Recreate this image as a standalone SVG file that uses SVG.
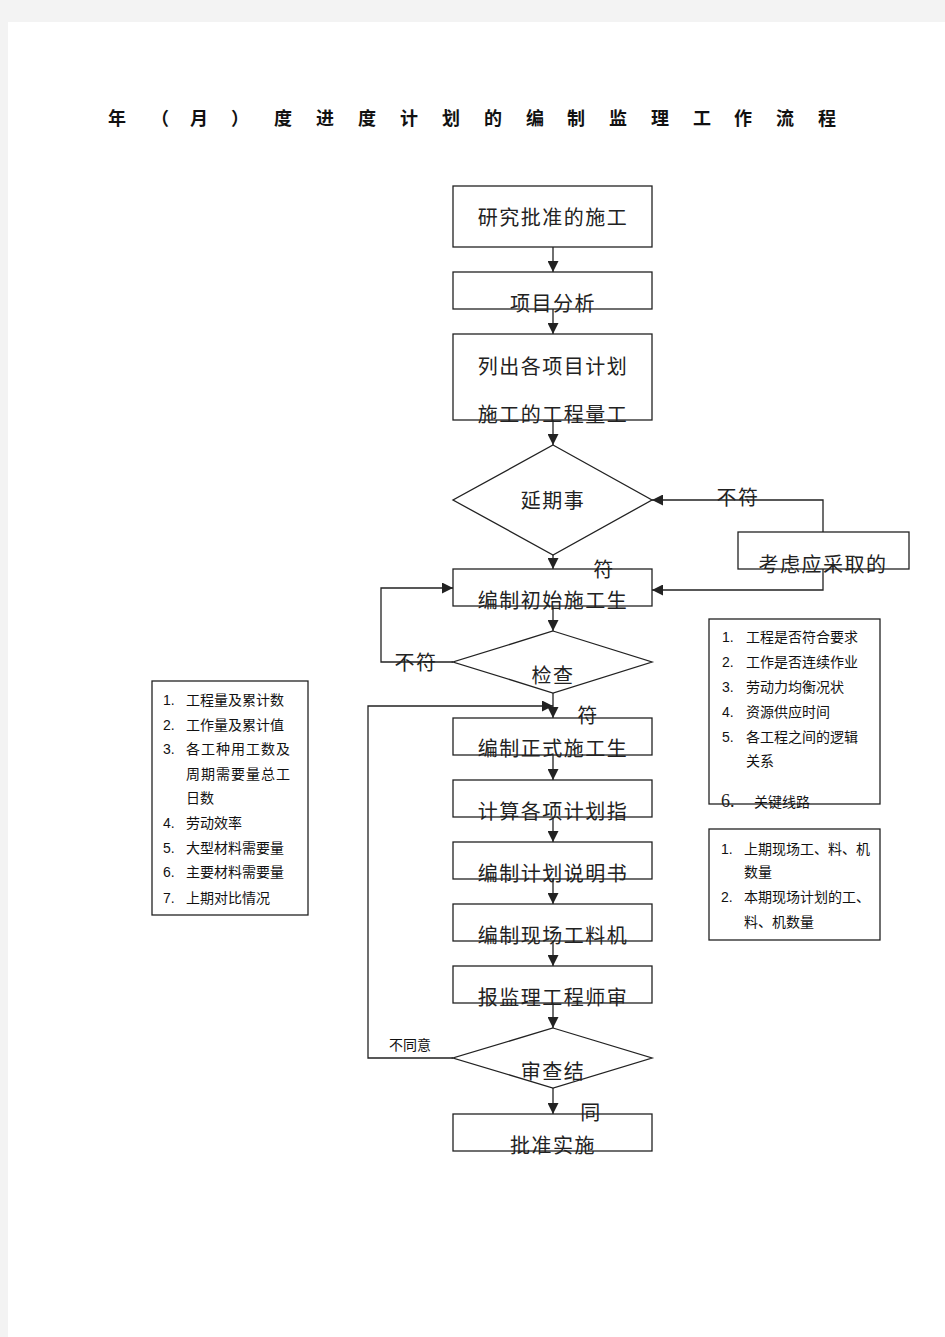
<svg xmlns="http://www.w3.org/2000/svg" width="945" height="1337" viewBox="0 0 945 1337">
<style>
.bx{fill:none;stroke:#222;stroke-width:1.3}
.ln{fill:none;stroke:#222;stroke-width:1.3}
.t{font-family:"Liberation Serif","Noto Sans CJK SC",serif;font-size:20px;fill:#222;text-anchor:middle;letter-spacing:1.5px}
.n{font-family:"Liberation Sans","Noto Sans CJK SC",sans-serif;font-size:14px;fill:#111}
.ttl{font-family:"Liberation Serif","Noto Sans CJK SC",serif;font-size:18px;font-weight:bold;fill:#111;text-anchor:middle}
</style>
<defs>
<marker id="ah" viewBox="0 0 10 10" refX="10" refY="5" markerWidth="11" markerHeight="11" markerUnits="userSpaceOnUse" orient="auto">
<path d="M0,0 L10,5 L0,10 z" fill="#222"/>
</marker>
</defs>
<rect x="0" y="0" width="945" height="1337" fill="#f3f3f3"/>
<rect x="8" y="22" width="937" height="1315" fill="#fff"/>
<text class="ttl" x="117 160 199 240 283 325 367 409 451 493 535 576 618 660 702 743 785 827" y="125">年（月）度进度计划的编制监理工作流程</text>

<g id="connectors">
<path class="ln" d="M553,247 V272" marker-end="url(#ah)"/>
<path class="ln" d="M553,309 V334" marker-end="url(#ah)"/>
<path class="ln" d="M553,420 V445" marker-end="url(#ah)"/>
<path class="ln" d="M553,555 V569" marker-end="url(#ah)"/>
<path class="ln" d="M823,532 V500 H652" marker-end="url(#ah)"/>
<path class="ln" d="M823,569 V590 H652" marker-end="url(#ah)"/>
<path class="ln" d="M453,662 H381 V588 H453" marker-end="url(#ah)"/>
<path class="ln" d="M553,606 V631" marker-end="url(#ah)"/>
<path class="ln" d="M553,693 V718" marker-end="url(#ah)"/>
<path class="ln" d="M453,1058 H368 V706 H553" marker-end="url(#ah)"/>
<path class="ln" d="M553,755 V780" marker-end="url(#ah)"/>
<path class="ln" d="M553,817 V842" marker-end="url(#ah)"/>
<path class="ln" d="M553,879 V904" marker-end="url(#ah)"/>
<path class="ln" d="M553,941 V966" marker-end="url(#ah)"/>
<path class="ln" d="M553,1003 V1028" marker-end="url(#ah)"/>
<path class="ln" d="M553,1088 V1114" marker-end="url(#ah)"/>
<text class="t" x="738" y="505">不符</text>
<text class="t" x="604" y="577">符</text>
<text class="t" x="416" y="670">不符</text>
<text class="t" x="588" y="723">符</text>
<text class="n" x="389" y="1050">不同意</text>
<text class="t" x="591" y="1120">同</text>
</g>

<g id="n1"><rect class="bx" x="453" y="186" width="199" height="61"/><text class="t" x="553" y="225">研究批准的施工</text></g>
<g id="n2"><rect class="bx" x="453" y="272" width="199" height="37"/><text class="t" x="553" y="311">项目分析</text></g>
<g id="n3"><rect class="bx" x="453" y="334" width="199" height="86"/><text class="t" x="553" y="374">列出各项目计划</text><text class="t" x="553" y="422">施工的工程量工</text></g>
<g id="n4"><polygon class="bx" points="553,445 652,500 553,555 453,500"/><text class="t" x="553" y="508">延期事</text></g>
<g id="n5"><rect class="bx" x="738" y="532" width="171" height="37"/><text class="t" x="823" y="572">考虑应采取的</text></g>
<g id="n6"><rect class="bx" x="453" y="569" width="199" height="37"/><text class="t" x="553" y="608">编制初始施工生</text></g>
<g id="n7"><polygon class="bx" points="553,631 652,662 553,693 453,662"/><text class="t" x="553" y="683">检查</text></g>
<g id="n8"><rect class="bx" x="453" y="718" width="199" height="37"/><text class="t" x="553" y="756">编制正式施工生</text></g>
<g id="n9"><rect class="bx" x="453" y="780" width="199" height="37"/><text class="t" x="553" y="819">计算各项计划指</text></g>
<g id="n10"><rect class="bx" x="453" y="842" width="199" height="37"/><text class="t" x="553" y="881">编制计划说明书</text></g>
<g id="n11"><rect class="bx" x="453" y="904" width="199" height="37"/><text class="t" x="553" y="943">编制现场工料机</text></g>
<g id="n12"><rect class="bx" x="453" y="966" width="199" height="37"/><text class="t" x="553" y="1005">报监理工程师审</text></g>
<g id="n13"><polygon class="bx" points="553,1028 652,1058 553,1088 453,1058"/><text class="t" x="553" y="1079">审查结</text></g>
<g id="n14"><rect class="bx" x="453" y="1114" width="199" height="37"/><text class="t" x="553" y="1153">批准实施</text></g>

<g id="noteLeft">
<rect class="bx" x="152" y="681" width="156" height="234"/>
<text class="n" x="163" y="705">1.</text><text class="n" x="186" y="705">工程量及累计数</text>
<text class="n" x="163" y="730">2.</text><text class="n" x="186" y="730">工作量及累计值</text>
<text class="n" x="163" y="754">3.</text><text class="n" x="186" y="754" letter-spacing="1">各工种用工数及</text>
<text class="n" x="186" y="779" letter-spacing="1">周期需要量总工</text>
<text class="n" x="186" y="803">日数</text>
<text class="n" x="163" y="828">4.</text><text class="n" x="186" y="828">劳动效率</text>
<text class="n" x="163" y="853">5.</text><text class="n" x="186" y="853">大型材料需要量</text>
<text class="n" x="163" y="877">6.</text><text class="n" x="186" y="877">主要材料需要量</text>
<text class="n" x="163" y="903">7.</text><text class="n" x="186" y="903">上期对比情况</text>
</g>

<g id="noteRight1">
<rect class="bx" x="709" y="619" width="171" height="185"/>
<text class="n" x="722" y="642">1.</text><text class="n" x="746" y="642">工程是否符合要求</text>
<text class="n" x="722" y="667">2.</text><text class="n" x="746" y="667">工作是否连续作业</text>
<text class="n" x="722" y="692">3.</text><text class="n" x="746" y="692">劳动力均衡况状</text>
<text class="n" x="722" y="717">4.</text><text class="n" x="746" y="717">资源供应时间</text>
<text class="n" x="722" y="742">5.</text><text class="n" x="746" y="742">各工程之间的逻辑</text>
<text class="n" x="746" y="766">关系</text>
<text x="721" y="807" font-family="Liberation Serif, serif" font-size="18" fill="#222">6.</text><text class="n" x="754" y="807">关键线路</text>
</g>

<g id="noteRight2">
<rect class="bx" x="709" y="829" width="171" height="111"/>
<text class="n" x="721" y="854">1.</text><text class="n" x="744" y="854">上期现场工、料、机</text>
<text class="n" x="744" y="877">数量</text>
<text class="n" x="721" y="902">2.</text><text class="n" x="744" y="902">本期现场计划的工、</text>
<text class="n" x="744" y="927">料、机数量</text>
</g>
</svg>
